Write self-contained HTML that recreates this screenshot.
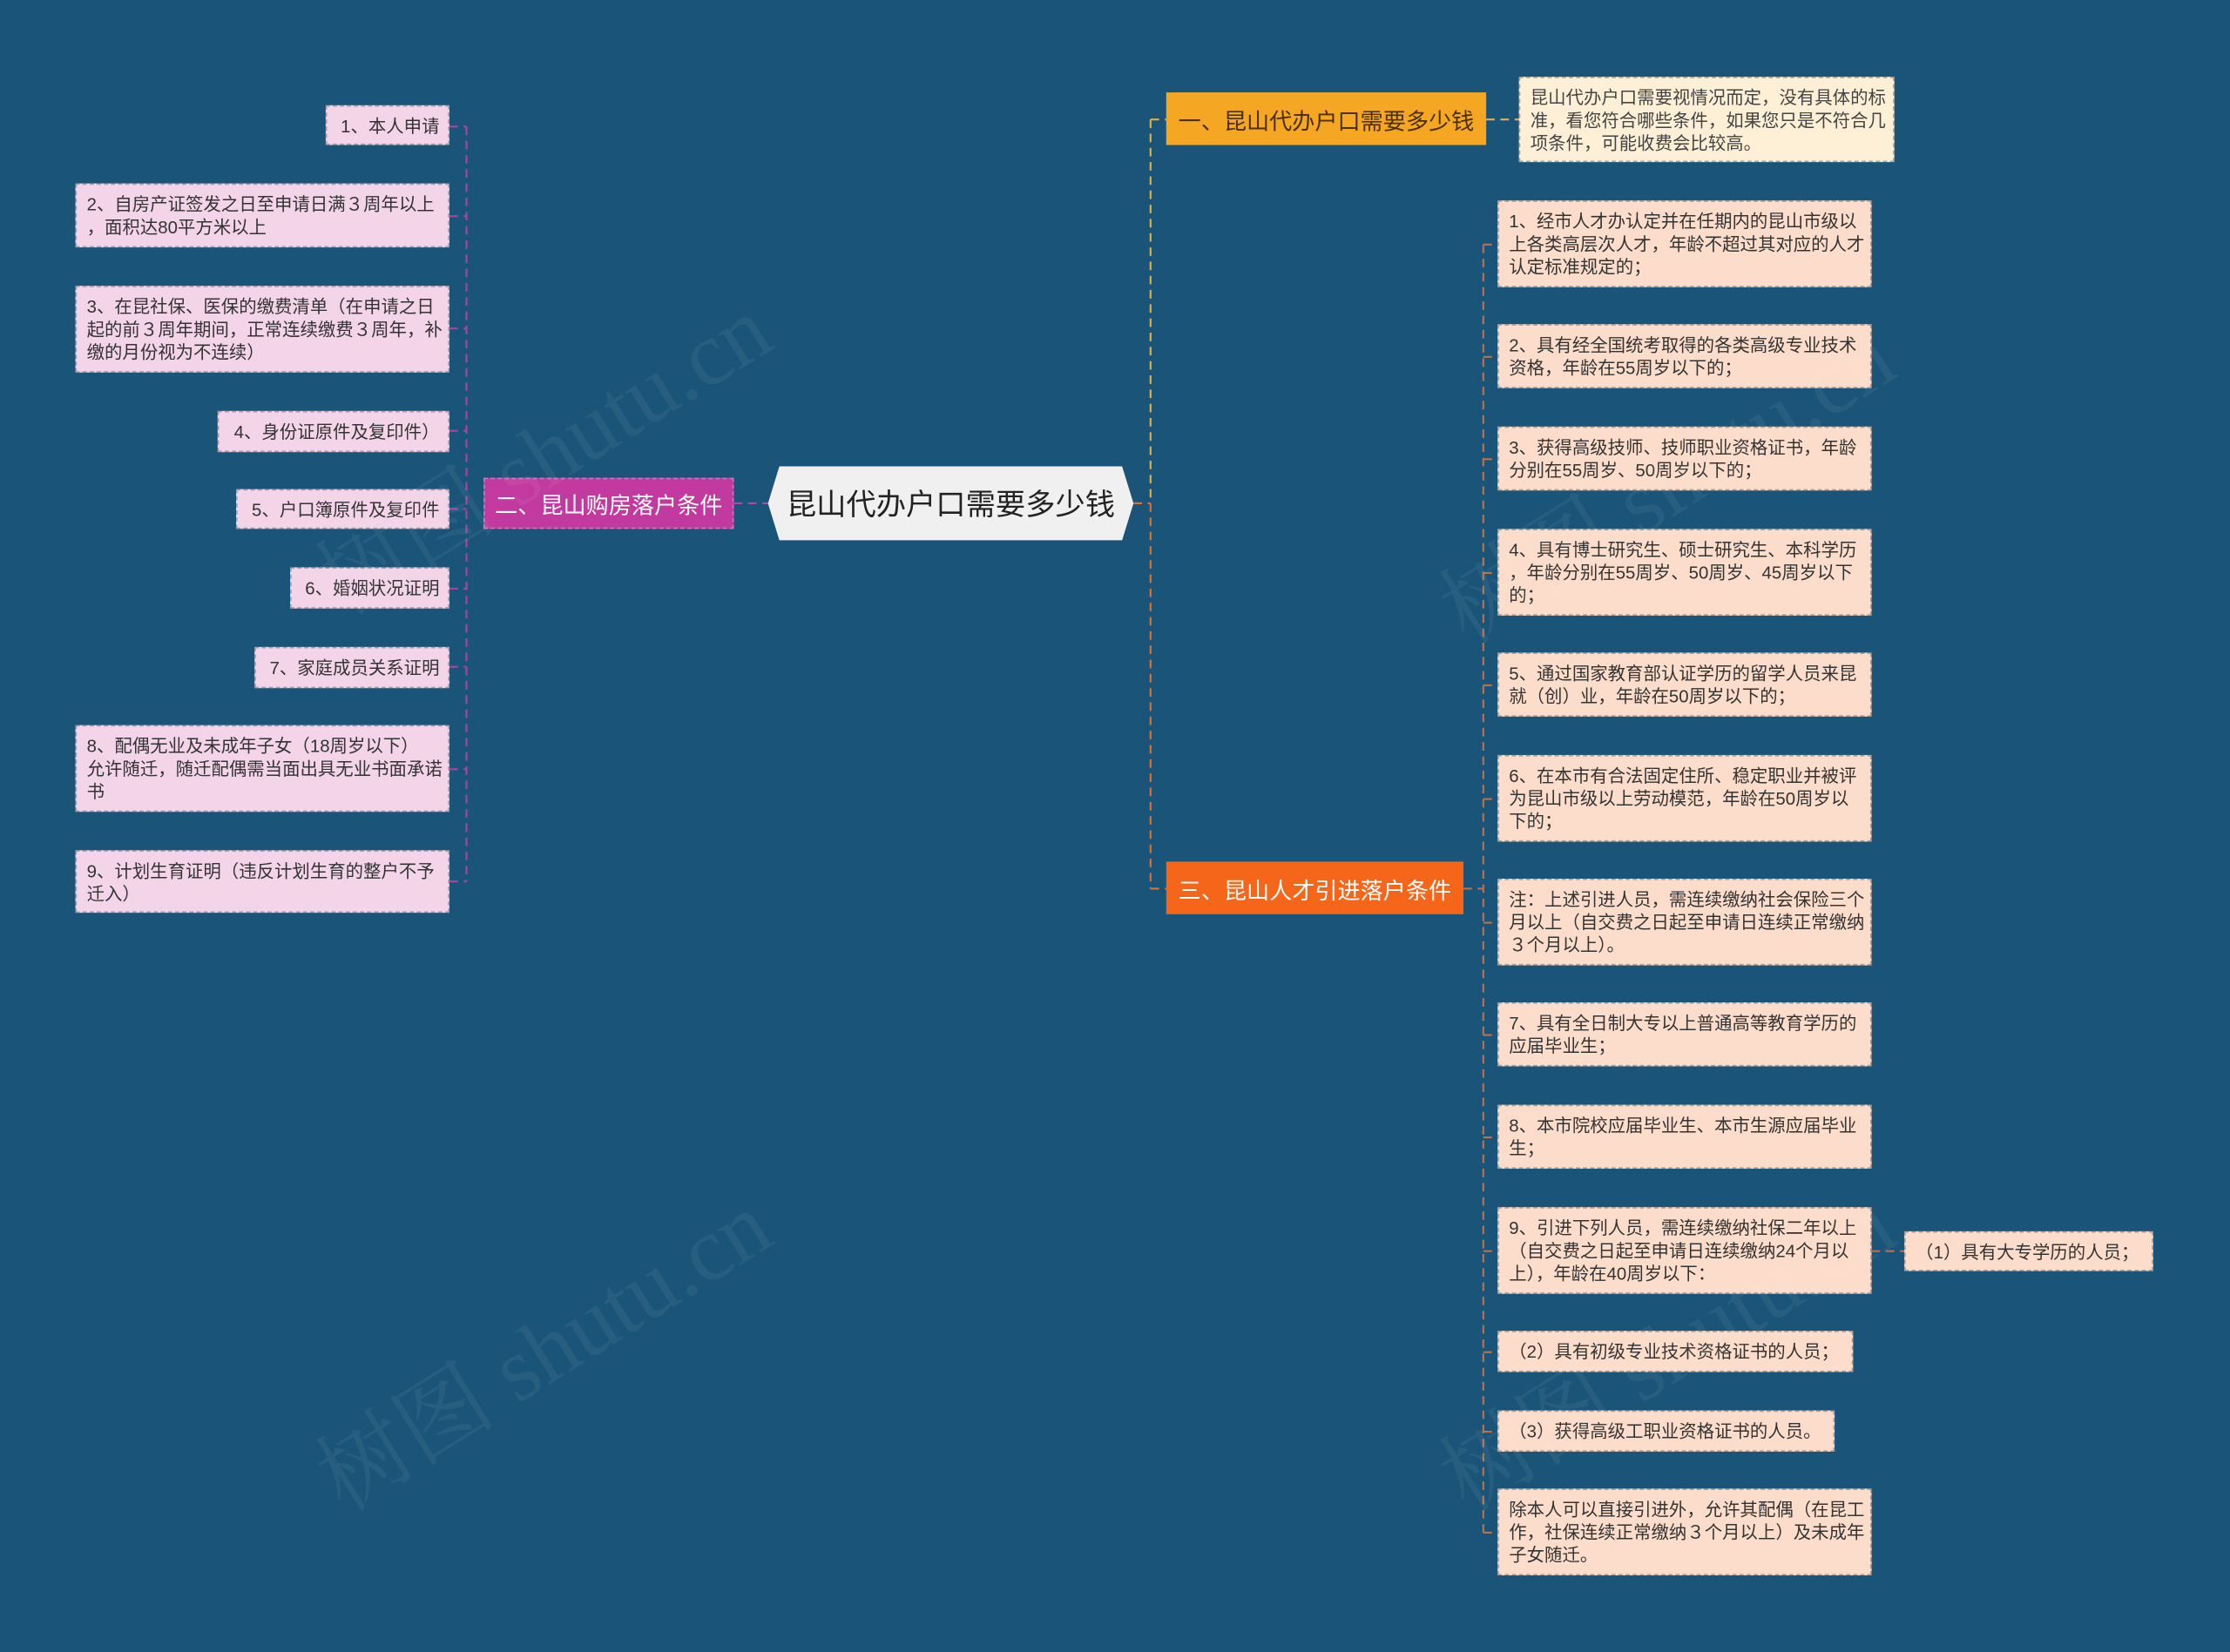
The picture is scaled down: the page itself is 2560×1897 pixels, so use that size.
<!DOCTYPE html>
<html><head><meta charset="utf-8"><style>
html,body{margin:0;padding:0;background:#1a5479;width:2560px;height:1897px;overflow:hidden}
#w{position:absolute;left:0;top:0;width:1568px;height:1162px;transform:scale(1.63265);transform-origin:0 0;font-family:"Liberation Sans","Noto Sans CJK SC",sans-serif}
.n{position:absolute;box-sizing:border-box;font-size:12.5px;line-height:16px;color:#333;padding:6px 6px 0 7px;white-space:nowrap;border:1px dashed rgba(120,120,120,.6)}
.p{background:#f3d4e8;text-align:right}
.p.l{text-align:left}
.o{background:#fcdcca}
.c{background:#fdf0d6;color:#444}
.m{position:absolute;box-sizing:border-box;font-size:16px;display:flex;align-items:center;justify-content:center;white-space:nowrap}
.wm{position:absolute;font-size:64px;color:rgba(255,255,255,.06);transform:rotate(-32deg);font-family:"Liberation Serif","Noto Serif CJK SC",serif;white-space:nowrap}
</style></head><body><div id="w">
<svg width="1568" height="1162" style="position:absolute;left:0;top:0">
<g fill="none" stroke-width="1.3" stroke-dasharray="6,4">
<path d="M516 354H540" stroke="#b04aa8"/>
<path d="M328 89V620 M316 89H328 M316 152H328 M316 231H328 M316 303H328 M316 358H328 M316 414H328 M316 469H328 M316 541H328 M316 620H328" stroke="#a646a0"/>
<path d="M797 354H809" stroke="#e07030"/>
<path d="M809 84V354" stroke="#e0b040"/>
<path d="M809 354V625" stroke="#e07030"/>
<path d="M809 84H820" stroke="#e0b040"/>
<path d="M1045 84H1068" stroke="#d9b060"/>
<path d="M809 625H820" stroke="#e07030"/>
<path d="M1029 625H1043 M1043 172V1078" stroke="#c07048"/>
<path d="M1043 172H1053 M1043 251H1053 M1043 323H1053 M1043 403H1053 M1043 482H1053 M1043 562H1053 M1043 649H1053 M1043 728H1053 M1043 800H1053 M1043 880H1053 M1043 951H1053 M1043 1007H1053 M1043 1078H1053 M1316 880H1339" stroke="#c07048"/>
</g>
<polygon points="548,328 789,328 797,354 789,380 548,380 540,354" fill="#f0f0f0"/>
</svg>
<div class="m" style="left:540px;top:328px;width:257px;height:52px;font-size:21px;color:#222">昆山代办户口需要多少钱</div>
<div class="m" style="left:340px;top:336px;width:176px;height:36px;background:#c2399f;color:#fff;border:1px dashed rgba(255,255,255,.3)">二、昆山购房落户条件</div>
<div class="m" style="left:820px;top:65px;width:225px;height:37px;background:#f5a623;color:#4a3000">一、昆山代办户口需要多少钱</div>
<div class="m" style="left:820px;top:606px;width:209px;height:37px;background:#f5651a;color:#fff">三、昆山人才引进落户条件</div>

<div class="n p" style="left:229px;top:74px;width:87px;height:28px">1、本人申请</div>
<div class="n p l" style="left:53px;top:129px;width:263px;height:45px">2、自房产证签发之日至申请日满３周年以上<br>，面积达80平方米以上</div>
<div class="n p l" style="left:53px;top:201px;width:263px;height:61px">3、在昆社保、医保的缴费清单（在申请之日<br>起的前３周年期间，正常连续缴费３周年，补<br>缴的月份视为不连续）</div>
<div class="n p" style="left:153px;top:289px;width:163px;height:29px">4、身份证原件及复印件）</div>
<div class="n p" style="left:166px;top:344px;width:150px;height:28px">5、户口簿原件及复印件</div>
<div class="n p" style="left:204px;top:399px;width:112px;height:29px">6、婚姻状况证明</div>
<div class="n p" style="left:179px;top:455px;width:137px;height:29px">7、家庭成员关系证明</div>
<div class="n p l" style="left:53px;top:510px;width:263px;height:61px">8、配偶无业及未成年子女（18周岁以下）<br>允许随迁，随迁配偶需当面出具无业书面承诺<br>书</div>
<div class="n p l" style="left:53px;top:598px;width:263px;height:44px">9、计划生育证明（违反计划生育的整户不予<br>迁入）</div>

<div class="n c" style="left:1068px;top:54px;width:264px;height:60px">昆山代办户口需要视情况而定，没有具体的标<br>准，看您符合哪些条件，如果您只是不符合几<br>项条件，可能收费会比较高。</div>

<div class="n o" style="left:1053px;top:141px;width:263px;height:61px">1、经市人才办认定并在任期内的昆山市级以<br>上各类高层次人才，年龄不超过其对应的人才<br>认定标准规定的；</div>
<div class="n o" style="left:1053px;top:228px;width:263px;height:45px">2、具有经全国统考取得的各类高级专业技术<br>资格，年龄在55周岁以下的；</div>
<div class="n o" style="left:1053px;top:300px;width:263px;height:45px">3、获得高级技师、技师职业资格证书，年龄<br>分别在55周岁、50周岁以下的；</div>
<div class="n o" style="left:1053px;top:372px;width:263px;height:61px">4、具有博士研究生、硕士研究生、本科学历<br>，年龄分别在55周岁、50周岁、45周岁以下<br>的；</div>
<div class="n o" style="left:1053px;top:459px;width:263px;height:45px">5、通过国家教育部认证学历的留学人员来昆<br>就（创）业，年龄在50周岁以下的；</div>
<div class="n o" style="left:1053px;top:531px;width:263px;height:61px">6、在本市有合法固定住所、稳定职业并被评<br>为昆山市级以上劳动模范，年龄在50周岁以<br>下的；</div>
<div class="n o" style="left:1053px;top:618px;width:263px;height:61px">注：上述引进人员，需连续缴纳社会保险三个<br>月以上（自交费之日起至申请日连续正常缴纳<br>３个月以上）。</div>
<div class="n o" style="left:1053px;top:705px;width:263px;height:45px">7、具有全日制大专以上普通高等教育学历的<br>应届毕业生；</div>
<div class="n o" style="left:1053px;top:777px;width:263px;height:45px">8、本市院校应届毕业生、本市生源应届毕业<br>生；</div>
<div class="n o" style="left:1053px;top:849px;width:263px;height:61px">9、引进下列人员，需连续缴纳社保二年以上<br>（自交费之日起至申请日连续缴纳24个月以<br>上），年龄在40周岁以下：</div>
<div class="n o" style="left:1339px;top:866px;width:175px;height:28px">（1）具有大专学历的人员；</div>
<div class="n o" style="left:1053px;top:936px;width:250px;height:29px">（2）具有初级专业技术资格证书的人员；</div>
<div class="n o" style="left:1053px;top:992px;width:237px;height:29px">（3）获得高级工职业资格证书的人员。</div>
<div class="n o" style="left:1053px;top:1047px;width:263px;height:61px">除本人可以直接引进外，允许其配偶（在昆工<br>作，社保连续正常缴纳３个月以上）及未成年<br>子女随迁。</div>

<div class="wm" style="left:200px;top:270px">树图 shutu.cn</div>
<div class="wm" style="left:990px;top:290px">树图 shutu.cn</div>
<div class="wm" style="left:200px;top:900px">树图 shutu.cn</div>
<div class="wm" style="left:990px;top:900px">树图 shutu.cn</div>
</div></body></html>
